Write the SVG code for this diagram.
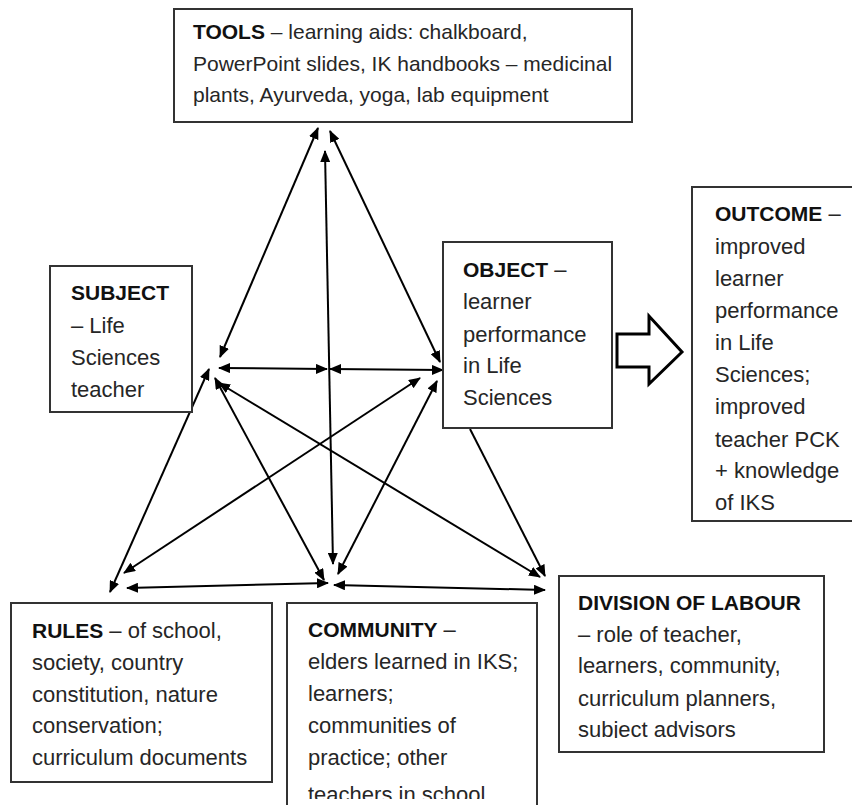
<svg xmlns="http://www.w3.org/2000/svg" width="852" height="805" viewBox="0 0 852 805">
<style>
.box{fill:#fff;stroke:#333;stroke-width:2}
.t{font-family:"Liberation Sans",Arial,sans-serif;font-size:22px;fill:#262626}
.tt{font-size:21px}
.b{font-weight:bold;font-size:21px;fill:#111}
.c{fill:none;stroke:#000;stroke-width:2}
</style>
<defs>
<marker id="ah" viewBox="0 0 12 10" refX="11" refY="5" markerWidth="12" markerHeight="10" markerUnits="userSpaceOnUse" orient="auto-start-reverse"><path d="M0,0 L12,5 L0,10 z" fill="#000"/></marker>
<clipPath id="clipOut"><rect x="692" y="187" width="170" height="325"/></clipPath>
<clipPath id="clipCom"><rect x="287" y="603" width="260" height="196"/></clipPath>
<clipPath id="clipDol"><rect x="559" y="576" width="270" height="162"/></clipPath>
</defs>
<rect width="852" height="805" fill="#fff"/>

<g id="connectors">
<line class="c" x1="318" y1="128" x2="220" y2="357" marker-start="url(#ah)" marker-end="url(#ah)"/>
<line class="c" x1="330" y1="131" x2="440" y2="362" marker-start="url(#ah)" marker-end="url(#ah)"/>
<line class="c" x1="325" y1="151" x2="333" y2="564" marker-start="url(#ah)" marker-end="url(#ah)"/>
<line class="c" x1="219" y1="368" x2="327" y2="369" marker-start="url(#ah)" marker-end="url(#ah)"/>
<line class="c" x1="330" y1="369" x2="443" y2="370" marker-start="url(#ah)" marker-end="url(#ah)"/>
<line class="c" x1="110" y1="592" x2="209" y2="369" marker-start="url(#ah)" marker-end="url(#ah)"/>
<line class="c" x1="215" y1="378" x2="324" y2="580" marker-start="url(#ah)" marker-end="url(#ah)"/>
<line class="c" x1="219" y1="383" x2="540" y2="577" marker-start="url(#ah)" marker-end="url(#ah)"/>
<line class="c" x1="124" y1="573" x2="420" y2="378" marker-start="url(#ah)" marker-end="url(#ah)"/>
<line class="c" x1="338" y1="574" x2="437" y2="381" marker-start="url(#ah)" marker-end="url(#ah)"/>
<line class="c" x1="470" y1="429" x2="545" y2="576" marker-end="url(#ah)"/>
<line class="c" x1="127" y1="588" x2="328" y2="583" marker-start="url(#ah)" marker-end="url(#ah)"/>
<line class="c" x1="334" y1="585" x2="545" y2="590" marker-start="url(#ah)" marker-end="url(#ah)"/>
<polygon points="617,334 649,334 649,316 682,352 649,384 649,367 617,367" fill="#fff" stroke="#000" stroke-width="3" stroke-linejoin="miter"/>
</g>

<g id="tools">
<rect class="box" x="174" y="9" width="458" height="113"/>
<text class="t tt" x="193" y="39"><tspan class="b">TOOLS</tspan> – learning aids: chalkboard,</text>
<text class="t tt" x="193" y="71">PowerPoint slides, IK handbooks – medicinal</text>
<text class="t tt" x="193" y="102">plants,  Ayurveda, yoga, lab equipment</text>
</g>

<g id="subject">
<rect class="box" x="50" y="266" width="142" height="146"/>
<text class="t" x="71" y="300"><tspan class="b">SUBJECT</tspan></text>
<text class="t" x="71" y="333">– Life</text>
<text class="t" x="71" y="365">Sciences</text>
<text class="t" x="71" y="397">teacher</text>
</g>

<g id="object">
<rect class="box" x="443" y="242" width="169" height="186"/>
<text class="t" x="463" y="277"><tspan class="b">OBJECT</tspan> –</text>
<text class="t" x="463" y="309">learner</text>
<text class="t" x="463" y="342">performance</text>
<text class="t" x="463" y="373">in Life</text>
<text class="t" x="463" y="405">Sciences</text>
</g>

<g id="outcome">
<rect class="box" x="692" y="187" width="170" height="334"/>
<g clip-path="url(#clipOut)">
<text class="t" x="715" y="221"><tspan class="b">OUTCOME</tspan> –</text>
<text class="t" x="715" y="254">improved</text>
<text class="t" x="715" y="286">learner</text>
<text class="t" x="715" y="318">performance</text>
<text class="t" x="715" y="350">in Life</text>
<text class="t" x="715" y="382">Sciences;</text>
<text class="t" x="715" y="414">improved</text>
<text class="t" x="715" y="447">teacher PCK</text>
<text class="t" x="715" y="478">+ knowledge</text>
<text class="t" x="715" y="510">of IKS</text>
</g>
</g>

<g id="rules">
<rect class="box" x="11" y="603" width="261" height="179"/>
<text class="t" x="32" y="638"><tspan class="b">RULES</tspan> – of school,</text>
<text class="t" x="32" y="670">society, country</text>
<text class="t" x="32" y="702">constitution, nature</text>
<text class="t" x="32" y="733">conservation;</text>
<text class="t" x="32" y="765">curriculum documents</text>
</g>

<g id="community">
<rect class="box" x="287" y="603" width="250" height="215"/>
<g clip-path="url(#clipCom)">
<text class="t" x="308" y="637"><tspan class="b">COMMUNITY</tspan> –</text>
<text class="t" x="308" y="669">elders learned in IKS;</text>
<text class="t" x="308" y="701">learners;</text>
<text class="t" x="308" y="733">communities of</text>
<text class="t" x="308" y="765">practice; other</text>
<text class="t" x="308" y="802">teachers in school</text>
</g>
</g>

<g id="division-of-labour">
<rect class="box" x="559" y="576" width="265" height="176"/>
<g clip-path="url(#clipDol)">
<text class="t" x="578" y="610"><tspan class="b">DIVISION OF LABOUR</tspan></text>
<text class="t" x="578" y="642">– role of teacher,</text>
<text class="t" x="578" y="673">learners, community,</text>
<text class="t" x="578" y="706">curriculum planners,</text>
<text class="t" x="578" y="737">subject advisors</text>
</g>
</g>
</svg>
